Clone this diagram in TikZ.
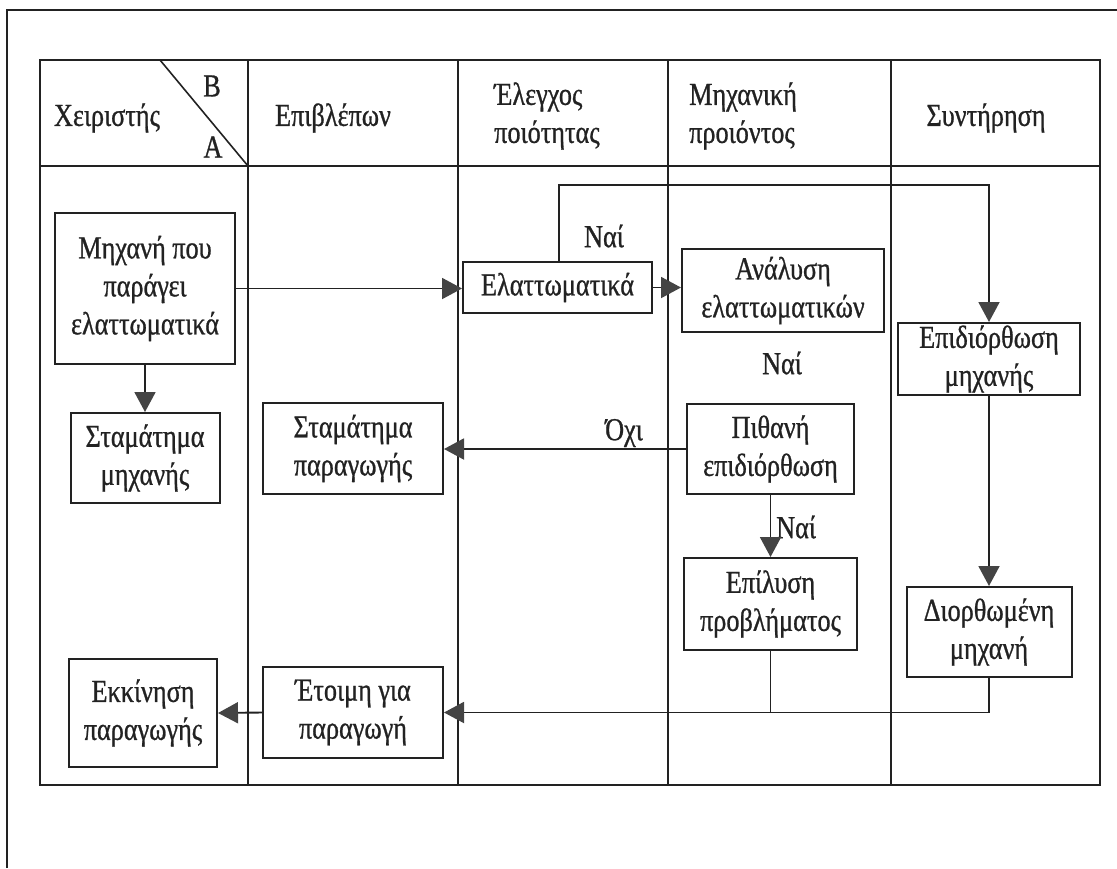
\documentclass[tikz,border=0pt]{standalone}
\usepackage{fontspec}
\setmainfont{Liberation Serif}[FakeStretch=0.82,FakeBold=0.8]
\usetikzlibrary{arrows.meta}
\definecolor{ink}{HTML}{222222}
\definecolor{tipc}{HTML}{444444}
\begin{document}
\begin{tikzpicture}[x=1pt,y=-1pt,
  every node/.style={text=ink,font=\fontsize{32}{38}\selectfont},
  box/.style={draw=ink,line width=2pt,align=center,inner sep=0pt},
  conn/.style={draw=ink,line width=1.9pt},
  arr/.style={conn,-{Triangle[length=20pt,width=21pt,fill=tipc,color=tipc]}},
  grid/.style={draw=ink,line width=1.6pt},
  lbl/.style={inner sep=0pt}]
\useasboundingbox (0,0) rectangle (1117,868);
% outer frame (clipped)
\draw[ink,line width=2.2pt] (7,868) -- (7,10) -- (1117,10);
% table
\draw[grid,line width=2.2pt] (40,60) rectangle (1100,785);
\draw[grid,line width=2.6pt] (40,166) -- (1100,166);
\foreach \xx in {248,458,668,891} \draw[grid] (\xx,60) -- (\xx,785);
\draw[grid] (160,60) -- (248,166);
% headers
\node[lbl] (h1) at (107,118) {Χειριστής};
\node[lbl] (hb) at (212,86) {B};
\node[lbl] (ha) at (213,147) {A};
\node[lbl] (h2) at (333,118) {Επιβλέπων};
\node[lbl,align=left,anchor=west] (h3) at (494,116) {Έλεγχος\\ποιότητας};
\node[lbl,align=left,anchor=west] (h4) at (689,116) {Μηχανική\\προιόντος};
\node[lbl] (h5) at (986,118) {Συντήρηση};
% boxes
\node[box,minimum width=180,minimum height=151] (m1) at (145,288.5) {Μηχανή που\\παράγει\\ελαττωματικά};
\node[box,minimum width=149,minimum height=90] (m2) at (145,458) {Σταμάτημα\\μηχανής};
\node[box,minimum width=148,minimum height=108] (m3) at (143,713) {Εκκίνηση\\παραγωγής};
\node[box,minimum width=180,minimum height=91] (s1) at (353,448.5) {Σταμάτημα\\παραγωγής};
\node[box,minimum width=180,minimum height=91] (s2) at (353,712.5) {Έτοιμη για\\παραγωγή};
\node[box,minimum width=189,minimum height=51] (q1) at (557.5,287.5) {Ελαττωματικά};
\node[box,minimum width=202,minimum height=83] (p1) at (783,290.5) {Ανάλυση\\ελαττωματικών};
\node[box,minimum width=167,minimum height=90] (p2) at (770.5,449) {Πιθανή\\επιδιόρθωση};
\node[box,minimum width=173,minimum height=92] (p3) at (770.5,604) {Επίλυση\\προβλήματος};
\node[box,minimum width=182,minimum height=72] (r1) at (989,359) {Επιδιόρθωση\\μηχανής};
\node[box,minimum width=165,minimum height=90] (r2) at (989,632) {Διορθωμένη\\μηχανή};
% labels
\node[lbl] (l1) at (604,236) {Ναί};
\node[lbl] (l2) at (782,363) {Ναί};
\node[lbl] (l3) at (624,433) {Όχι};
\node[lbl,anchor=west] (l4) at (776,527) {Ναί};
% connectors
\coordinate (top) at (559,185);
\coordinate (bot) at (770.5,712.5);
\draw[arr] (m1.south) -- (m2.north);
\draw[arr] (m1.east) -- (m1.east -| q1.west);
\draw[arr] (q1.east) -- (q1.east -| p1.west);
\draw[arr] (q1.north -| top) -- (top) -| (r1.north);
\draw[arr] (p2.west) -- (p2.west -| s1.east);
\draw[arr] (p2.south) -- (p3.north);
\draw[arr] (r1.south) -- (r2.north);
\draw[arr] (r2.south) |- (s2.east);
\draw[conn] (p3.south) -- (bot);
\draw[arr] (s2.west) -- (m3.east);
\end{tikzpicture}
\end{document}
